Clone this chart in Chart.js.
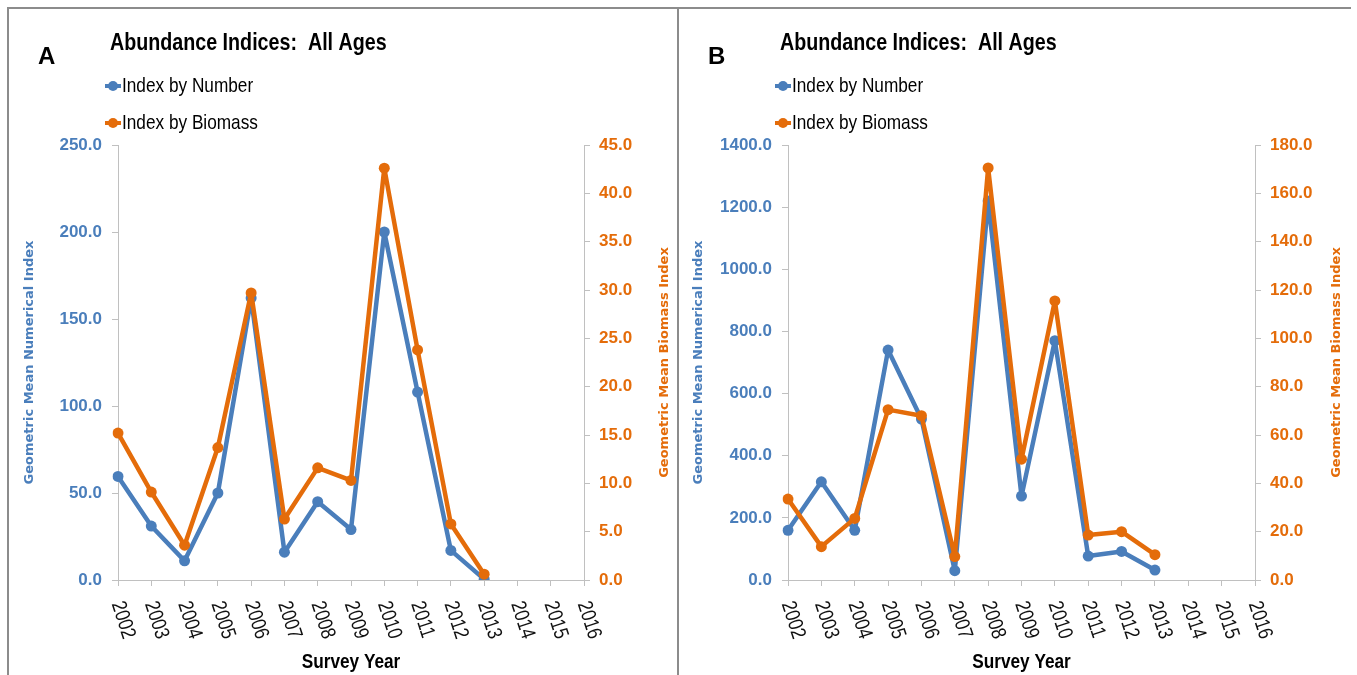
<!DOCTYPE html>
<html>
<head>
<meta charset="utf-8">
<script src="https://cdn.jsdelivr.net/npm/chart.js@4.4.1/dist/chart.umd.min.js"></script>
<style>
    body { margin: 0; background: #fff; }
    #wrap { position: relative; width: 1357px; height: 675px; overflow: hidden; background: #fff; }
    canvas { position: absolute; top: 0; }
    #chartA { left: 0; }
    #chartB { left: 679px; }
    .rule { position: absolute; background: #8c8c8c; }
</style>
</head>
<body>
<div id="wrap">
    <canvas id="chartA" width="679" height="675"></canvas>
    <canvas id="chartB" width="678" height="675"></canvas>
    <div class="rule" style="left:7px; top:7px; width:1344px; height:2px;"></div>
    <div class="rule" style="left:7px; top:7px; width:2px; height:668px;"></div>
    <div class="rule" style="left:677px; top:7px; width:2px; height:668px;"></div>
</div>
<script>
    const years = ['2002', '2003', '2004', '2005', '2006', '2007', '2008', '2009', '2010', '2011', '2012', '2013', '2014', '2015', '2016'];

    // panel A
    const numberA = [59.5, 31, 11, 50, 162, 16, 45, 29, 200, 108, 17, 0.5];
    const biomassA = [15.2, 9.1, 3.6, 13.7, 29.7, 6.3, 11.6, 10.3, 42.6, 23.8, 5.8, 0.6];
    const leftTicksA = [0, 50, 100, 150, 200, 250];
    const rightTicksA = [0, 5, 10, 15, 20, 25, 30, 35, 40, 45];

    // panel B
    const numberB = [160, 316, 160, 740, 518, 30, 1220, 270, 770, 77, 92, 32];
    const biomassB = [33.5, 13.8, 25.5, 70.5, 68, 9.7, 170.5, 50, 115.5, 18.6, 20, 10.5];
    const leftTicksB = [0, 200, 400, 600, 800, 1000, 1200, 1400];
    const rightTicksB = [0, 20, 40, 60, 80, 100, 120, 140, 160, 180];

    const BLUE = '#4a7ebb';
    const ORANGE = '#e46c0a';
    const SANS = '"Liberation Sans", Arial, sans-serif';
    const VERD = '"DejaVu Sans", sans-serif';
    const SQUEEZE = 0.82; // the original text is a narrow face

    function narrowText(ctx, text, x, y, angle) {
        ctx.save();
        ctx.translate(x, y);
        if (angle) ctx.rotate(angle);
        ctx.scale(SQUEEZE, 1);
        ctx.fillText(text, 0, 0);
        ctx.restore();
    }

    // title, panel letter, legend, slanted year labels, axis titles
    const panelText = {
        id: 'panelText',
        afterDraw(chart, args, opts) {
            const ctx = chart.ctx;
            const area = chart.chartArea;
            const xs = chart.scales.x;
            ctx.save();

            ctx.fillStyle = '#000';
            ctx.textBaseline = 'middle';
            ctx.textAlign = 'left';
            ctx.font = 'bold 24px ' + SANS;
            ctx.fillText(opts.letter, area.left - 80, 57);

            narrowText(ctx, 'Abundance Indices:  All Ages', area.left - 8, 43);

            ctx.font = '21px ' + SANS;
            chart.data.datasets.slice().reverse().forEach((ds, i) => {
                const y = 86 + i * 37;
                ctx.strokeStyle = ds.borderColor;
                ctx.lineWidth = 4;
                ctx.lineCap = 'butt';
                ctx.beginPath();
                ctx.moveTo(area.left - 13, y);
                ctx.lineTo(area.left + 3, y);
                ctx.stroke();
                ctx.fillStyle = ds.borderColor;
                ctx.beginPath();
                ctx.arc(area.left - 5, y, 5, 0, Math.PI * 2);
                ctx.fill();
                ctx.fillStyle = '#000';
                narrowText(ctx, ds.label, area.left + 4, y);
            });

            ctx.font = '21px ' + SANS;
            ctx.fillStyle = '#111';
            years.forEach((yr, i) => {
                const px = xs.getPixelForTick(i);
                narrowText(ctx, yr, px - 1, area.bottom + 22, 72 * Math.PI / 180);
            });

            ctx.font = 'bold 21px ' + SANS;
            ctx.fillStyle = '#000';
            ctx.textAlign = 'center';
            narrowText(ctx, 'Survey Year', (area.left + area.right) / 2, 662);

            const ry = chart.scales.y1;
            ctx.font = 'bold 13px ' + VERD;
            ctx.fillStyle = ORANGE;
            ctx.translate(ry.right - opts.rightTitleOffset, (area.top + area.bottom) / 2);
            ctx.rotate(-Math.PI / 2);
            ctx.fillText('Geometric Mean Biomass Index', 0, 0);
            ctx.restore();
        }
    };

    function makeChart(id, numbers, biomass, leftTicks, rightTicks, o) {
        const ctx = document.getElementById(id).getContext('2d');
        const axisGrid = { display: true, drawOnChartArea: false, drawTicks: true, tickLength: 6, color: '#c0c0c0' };
        const lineStyle = {
            borderWidth: 4.5,
            pointRadius: 5.5,
            pointBorderWidth: 0,
            borderJoinStyle: 'round',
            borderCapStyle: 'round',
            tension: 0
        };
        return new Chart(ctx, {
            type: 'line',
            data: {
                labels: years,
                datasets: [Object.assign({
                    label: 'Index by Biomass',
                    data: biomass,
                    yAxisID: 'y1',
                    borderColor: ORANGE,
                    backgroundColor: ORANGE,
                    order: 0
                }, lineStyle), Object.assign({
                    label: 'Index by Number',
                    data: numbers,
                    yAxisID: 'y',
                    borderColor: BLUE,
                    backgroundColor: BLUE,
                    order: 1
                }, lineStyle)]
            },
            options: {
                responsive: false,
                animation: false,
                layout: { padding: { top: 145, left: 0, right: 0, bottom: 0 } },
                plugins: {
                    legend: { display: false },
                    title: { display: false },
                    tooltip: { enabled: false },
                    panelText: { letter: o.letter, rightTitleOffset: o.rightTitleOffset }
                },
                scales: {
                    x: {
                        type: 'category',
                        offset: false,
                        grid: axisGrid,
                        border: { color: '#c0c0c0', width: 1 },
                        ticks: { display: false, autoSkip: false },
                        afterFit: s => { s.height = 95; }
                    },
                    y: {
                        position: 'left',
                        min: leftTicks[0],
                        max: leftTicks[leftTicks.length - 1],
                        afterBuildTicks: s => { s.ticks = leftTicks.map(v => ({ value: v })); },
                        grid: axisGrid,
                        border: { color: '#c0c0c0', width: 1 },
                        ticks: {
                            color: BLUE,
                            padding: 10,
                            font: { family: SANS, size: 17, weight: 'bold' },
                            callback: v => Number(v).toFixed(1)
                        },
                        title: {
                            display: true,
                            text: 'Geometric Mean Numerical Index',
                            color: BLUE,
                            font: { family: VERD, size: 13, weight: 'bold' },
                            padding: { top: o.leftTitlePad, bottom: 0 }
                        },
                        afterFit: s => { s.width = o.leftWidth; }
                    },
                    y1: {
                        position: 'right',
                        min: rightTicks[0],
                        max: rightTicks[rightTicks.length - 1],
                        afterBuildTicks: s => { s.ticks = rightTicks.map(v => ({ value: v })); },
                        grid: axisGrid,
                        border: { color: '#c0c0c0', width: 1 },
                        ticks: {
                            color: ORANGE,
                            padding: 9,
                            font: { family: SANS, size: 17, weight: 'bold' },
                            callback: v => Number(v).toFixed(1)
                        },
                        afterFit: s => { s.width = o.rightWidth; }
                    }
                }
            },
            plugins: [panelText]
        });
    }

    makeChart('chartA', numberA, biomassA, leftTicksA, rightTicksA,
        { letter: 'A', leftWidth: 118, rightWidth: 95, leftTitlePad: 22, rightTitleOffset: 14 });
    makeChart('chartB', numberB, biomassB, leftTicksB, rightTicksB,
        { letter: 'B', leftWidth: 109, rightWidth: 102, leftTitlePad: 12, rightTitleOffset: 20 });
</script>
</body>
</html>
